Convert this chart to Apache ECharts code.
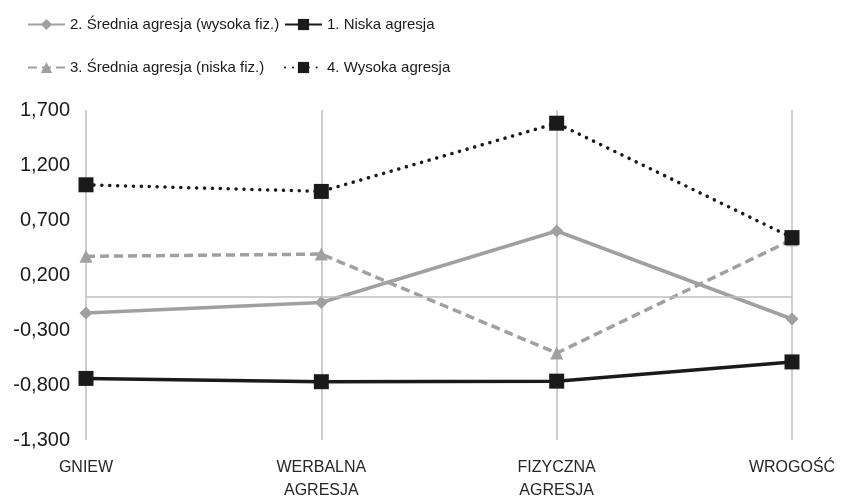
<!DOCTYPE html>
<html><head><meta charset="utf-8">
<script src="https://cdn.jsdelivr.net/npm/echarts@6/dist/echarts.min.js"></script>
<style>html,body{margin:0;padding:0;background:#fff}#c{width:864px;height:497px}</style>
</head><body><div id="c"></div>
<script>
var categories = ['GNIEW', 'WERBALNA\nAGRESJA', 'FIZYCZNA\nAGRESJA', 'WROGOŚĆ'];
var seriesNames = ['2. Średnia agresja (wysoka fiz.)', '1. Niska agresja', '3. Średnia agresja (niska fiz.)', '4. Wysoka agresja'];
var sredniaWysoka = [-0.145, -0.05, 0.60, -0.20];
var niska = [-0.74, -0.77, -0.765, -0.59];
var sredniaNiska = [0.37, 0.39, -0.51, 0.52];
var wysoka = [1.02, 0.96, 1.58, 0.54];
var yMin = -1.3, yMax = 1.7, yInterval = 0.5;

var chart = echarts.init(document.getElementById('c'), null, {renderer: 'canvas'});
var font = 'Liberation Sans, Arial, sans-serif';
function legend(name, left, top) {
  return {data: [name], left: left, top: top, padding: 0, itemWidth: 37, itemHeight: 14, itemGap: 0,
    textStyle: {fontFamily: font, fontSize: 15, color: '#1a1a1a'}};
}
chart.setOption({
  animation: false,
  backgroundColor: '#fff',
  legend: [legend(seriesNames[0], 27, 17), legend(seriesNames[1], 284, 17),
           legend(seriesNames[2], 27, 60), legend(seriesNames[3], 284, 60)],
  grid: {left: 86, right: 72, top: 110, bottom: 57, containLabel: false, outerBoundsMode: 'none'},
  xAxis: {
    type: 'category', data: categories, boundaryGap: false,
    axisLine: {show: false, onZero: false}, axisTick: {show: false},
    splitLine: {show: true, lineStyle: {color: '#bfbfbf', width: 1.5}},
    axisLabel: {fontFamily: font, fontSize: 16, color: '#262626', margin: 16, lineHeight: 23, interval: 0}
  },
  yAxis: {
    type: 'value', min: yMin, max: yMax, interval: yInterval,
    axisLine: {show: false}, axisTick: {show: false}, splitLine: {show: false},
    axisLabel: {fontFamily: font, fontSize: 20, color: '#1a1a1a', margin: 16,
      formatter: function (v) { return v.toFixed(3).replace('.', ','); }}
  },
  series: [
    {name: seriesNames[0], type: 'line', data: sredniaWysoka, symbol: 'diamond', symbolSize: 13,
     itemStyle: {color: '#a0a0a0'}, lineStyle: {color: '#a0a0a0', width: 3.5}, z: 3,
     markLine: {silent: true, symbol: 'none', label: {show: false},
       lineStyle: {color: '#bfbfbf', width: 1.5, type: 'solid'}, data: [{yAxis: 0}]}},
    {name: seriesNames[1], type: 'line', data: niska, symbol: 'rect', symbolSize: 15,
     itemStyle: {color: '#1a1a1a'}, lineStyle: {color: '#1a1a1a', width: 3.5}, z: 4},
    {name: seriesNames[2], type: 'line', data: sredniaNiska, symbol: 'triangle', symbolSize: 13,
     itemStyle: {color: '#a0a0a0'}, lineStyle: {color: '#a0a0a0', width: 3.5, type: [9, 5]}, z: 3},
    {name: seriesNames[3], type: 'line', data: wysoka, symbol: 'rect', symbolSize: 15,
     itemStyle: {color: '#1a1a1a'}, lineStyle: {color: '#1a1a1a', width: 3.5, type: [0.1, 7.8], cap: 'round'}, z: 4}
  ]
});
</script></body></html>
